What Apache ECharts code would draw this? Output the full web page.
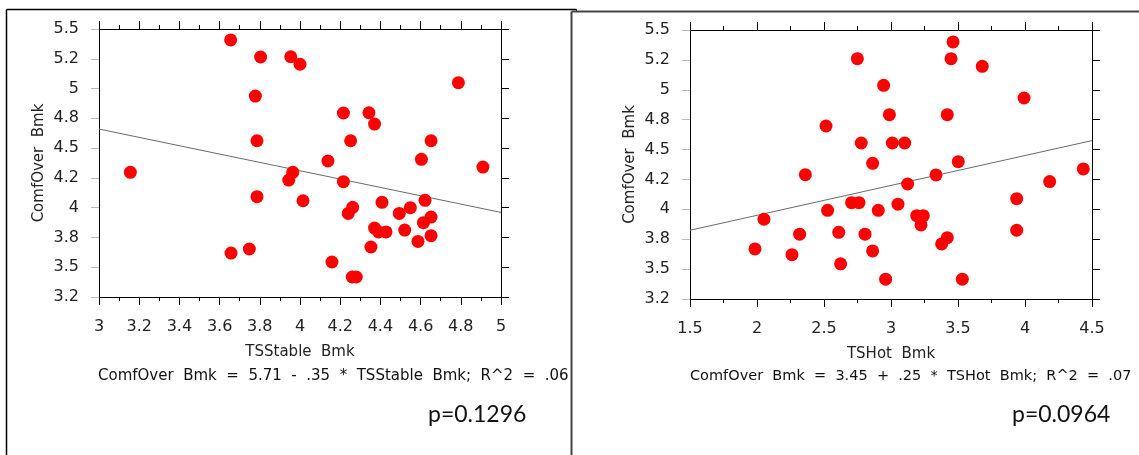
<!DOCTYPE html>
<html>
<head>
<meta charset="utf-8">
<script src="https://cdn.jsdelivr.net/npm/echarts@6/dist/echarts.min.js"></script>
<style>
html,body{margin:0;padding:0;background:#fff;}
#c{width:1139px;height:455px;}
</style>
</head>
<body>
<div id="c"></div>
<script>
// ---- data ----
const stableX = [3.655,3.804,3.954,4.000,3.778,3.786,3.156,3.964,3.944,3.786,4.015,3.748,3.657,4.788,4.216,4.343,4.371,4.252,4.652,4.139,4.604,4.910,4.216,4.408,4.622,4.262,4.240,4.494,4.549,4.652,4.614,4.371,4.391,4.428,4.521,4.652,4.587,4.353,4.159,4.260,4.280];
const stableY = [5.408,5.265,5.267,5.204,4.937,4.562,4.297,4.297,4.232,4.092,4.058,3.653,3.619,5.049,4.795,4.797,4.702,4.562,4.562,4.392,4.406,4.341,4.218,4.045,4.062,4.003,3.952,3.952,4.000,3.921,3.874,3.829,3.796,3.796,3.812,3.765,3.717,3.670,3.544,3.418,3.418];
const hotX = [2.749,2.945,2.988,2.515,2.778,3.010,2.863,2.361,2.706,2.761,2.527,2.905,3.052,2.052,2.318,2.610,2.806,1.985,2.261,2.863,2.624,2.960,3.463,3.448,3.681,3.993,3.420,3.102,3.502,3.124,3.336,4.435,4.184,3.938,3.192,3.241,3.224,3.938,3.420,3.378,3.532];
const hotY = [5.26,5.037,4.792,4.697,4.555,4.555,4.385,4.29,4.056,4.056,3.992,3.992,4.043,3.917,3.792,3.808,3.792,3.669,3.621,3.652,3.544,3.416,5.40,5.26,5.196,4.931,4.792,4.555,4.399,4.212,4.288,4.338,4.232,4.089,3.947,3.947,3.870,3.825,3.763,3.711,3.416];
const stableFit = [[3, 4.66], [5, 3.96]];
const hotFit = [[1.5, 3.825], [4.5, 4.575]];
const yTickLabels = ["3.2","3.5","3.8","4","4.2","4.5","4.8","5","5.2","5.5"];
const yName = "ComfOver  Bmk";
const stableName = "TSStable  Bmk";
const hotName = "TSHot  Bmk";
const stableEq = "ComfOver  Bmk  =  5.71  -  .35  *  TSStable  Bmk;  R^2  =  .06";
const hotEq = "ComfOver  Bmk  =  3.45  +  .25  *  TSHot  Bmk;  R^2  =  .07";
const stableP = "p=0.1296";
const hotP = "p=0.0964";

const FONT = "DejaVu Sans";
const zip = (a, b) => a.map((v, i) => [v, b[i]]);

function yLabel(v) {
  const i = Math.round((v - 3.25) / 0.25);
  return yTickLabels[i] !== undefined ? yTickLabels[i] : '';
}

function xAxes(gridIndex, min, max, interval, name) {
  const common = {
    gridIndex, type: 'value', min, max, interval,
    axisLine: { show: true, lineStyle: { color: '#000', width: 1 } },
    splitLine: { show: false },
    minorTick: { show: true, splitNumber: 2, length: 4, lineStyle: { color: '#000' } },
    axisTick: { show: true, inside: false, length: 8, lineStyle: { color: '#000' } }
  };
  return [
    Object.assign({}, common, {
      position: 'bottom',
      name, nameLocation: 'middle', nameGap: 48,
      nameTextStyle: { fontFamily: FONT, fontSize: 15, color: '#222' },
      axisLabel: { margin: 22, fontFamily: FONT, fontSize: 16, color: '#222' }
    }),
    Object.assign({}, common, { position: 'top', axisLabel: { show: false } })
  ];
}

function yAxes(gridIndex) {
  const common = {
    gridIndex, type: 'value', min: 3.25, max: 5.5, interval: 0.25,
    axisLine: { show: true, lineStyle: { color: '#000', width: 1 } },
    splitLine: { show: false }
  };
  return [
    Object.assign({}, common, {
      position: 'left',
      name: yName, nameLocation: 'middle', nameGap: 52, nameRotate: 90,
      nameTextStyle: { fontFamily: FONT, fontSize: 15, color: '#222' },
      axisTick: { show: true, length: 8, lineStyle: { color: '#bbb' } },
      axisLabel: { margin: 20, fontFamily: FONT, fontSize: 16, color: '#222', formatter: yLabel }
    }),
    Object.assign({}, common, {
      position: 'right',
      axisTick: { show: true, length: 8, lineStyle: { color: '#000' } },
      axisLabel: { show: false }
    })
  ];
}

function text(x, y, s, size, family) {
  return {
    type: 'text', left: x, top: y,
    style: { text: s, font: size + 'px "' + family + '"', fill: '#111' },
    silent: true
  };
}
function line(x1, y1, x2, y2, color, w) {
  return { type: 'line', shape: { x1, y1, x2, y2 }, style: { stroke: color, lineWidth: w }, silent: true };
}

const chart = echarts.init(document.getElementById('c'), null, { renderer: 'canvas' });
chart.setOption({
  animation: false,
  backgroundColor: '#fff',
  grid: [
    { left: 99, top: 29, width: 402, height: 268 },
    { left: 690, top: 30, width: 402, height: 269 }
  ],
  xAxis: [].concat(xAxes(0, 3, 5, 0.2, stableName), xAxes(1, 1.5, 4.5, 0.5, hotName)),
  yAxis: [].concat(yAxes(0), yAxes(1)),
  series: [
    { type: 'line', xAxisIndex: 0, yAxisIndex: 0, data: stableFit, showSymbol: false, symbol: 'none',
      lineStyle: { color: '#6a6a6a', width: 1 }, z: 1, silent: true },
    { type: 'scatter', xAxisIndex: 0, yAxisIndex: 0, data: zip(stableX, stableY), symbol: 'circle',
      symbolSize: 13, itemStyle: { color: '#ff0000', opacity: 1 }, z: 2 },
    { type: 'line', xAxisIndex: 2, yAxisIndex: 2, data: hotFit, showSymbol: false, symbol: 'none',
      lineStyle: { color: '#6a6a6a', width: 1 }, z: 1, silent: true },
    { type: 'scatter', xAxisIndex: 2, yAxisIndex: 2, data: zip(hotX, hotY), symbol: 'circle',
      symbolSize: 13, itemStyle: { color: '#ff0000', opacity: 1 }, z: 2 }
  ],
  graphic: [
    // panel frames
    line(6.5, 9.5, 576.5, 9.5, '#000', 1.5),
    line(6.5, 9.5, 6.5, 455, '#000', 1.5),
    line(576.5, 9.5, 576.5, 11.5, '#000', 1),
    line(571.5, 11.5, 1139, 11.5, '#444', 2),
    line(571.5, 11.5, 571.5, 455, '#444', 2),
    // equations and p-values
    text(98, 369, stableEq, 15, FONT),
    text(690, 369, hotEq, 14.5, FONT),
    text(428, 403, stableP, 23, 'Lato'),
    text(1012, 403, hotP, 23, 'Lato')
  ]
});
</script>
</body>
</html>
